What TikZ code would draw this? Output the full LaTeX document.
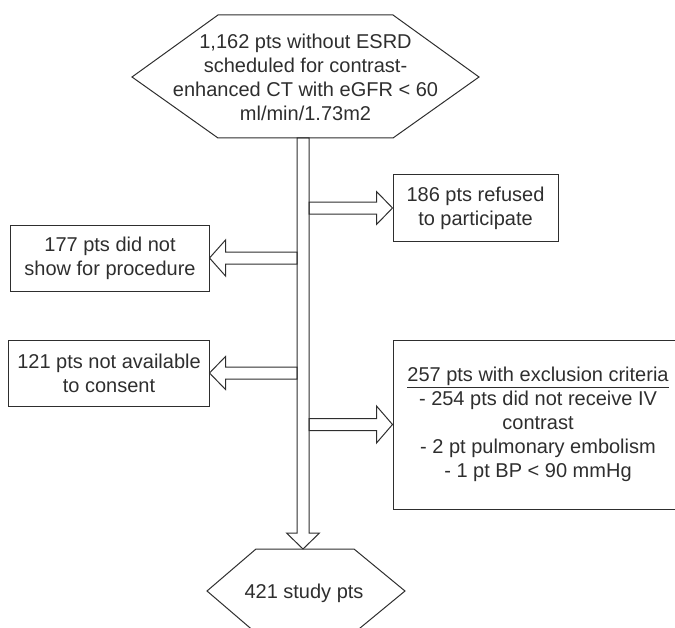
\documentclass[tikz,border=0pt]{standalone}
\usepackage{fontspec}
\setmainfont{Liberation Sans}
\usetikzlibrary{calc}

\definecolor{ink}{HTML}{2E2E2E}

\tikzset{
    flowline/.style={draw=ink, line width=1bp},
    txt/.style={text=ink, align=center, inner sep=0pt,
        font=\fontsize{20bp}{24bp}\selectfont},
    box/.style={txt, flowline, minimum height=66bp},
}

% hollow block arrow from #2 to #3, #1 = half width of the head
\newcommand{\fatarrow}[3][16.5bp]{%
    \coordinate (hb) at ($(#3)!16bp!(#2)$);
    \draw[flowline] ($(#2)!6bp!90:(#3)$) -- ($(hb)!6bp!90:(#3)$)
        -- ($(hb)!#1!90:(#3)$) -- (#3) -- ($(hb)!#1!-90:(#3)$)
        -- ($(hb)!6bp!-90:(#3)$) -- ($(#2)!6bp!-90:(#3)$) -- cycle;
}

\begin{document}
\begin{tikzpicture}[x=1bp, y=-1bp]
            \useasboundingbox (0,0) rectangle (675,628);
            \clip (0,0) rectangle (675,628);

            %top hexagon
            \draw[flowline] (132,77) -- (218,15) -- (393,15) -- (479,77)
                -- (393,138) -- (218,138) -- cycle;
            \node[txt] (start) at (305.5,77)
                {1,162 pts without ESRD\\scheduled for contrast-\\enhanced CT with eGFR < 60\\ml/min/1.73m2};
            \coordinate (top) at (303,138);

            %bottom hexagon
            \draw[flowline] (207,591) -- (256,549) -- (354,549) -- (405,591)
                -- (354,633) -- (256,633) -- cycle;
            \node[txt, anchor=base] (study) at (304,598) {421 study pts};
            \coordinate (bottom) at (303,549);

            %side boxes
            \node[box, minimum width=165bp] (refused) at (475.5,208)
                {186 pts refused\\to participate};
            \node[box, minimum width=198bp] (noshow) at (110,258)
                {177 pts did not\\show for procedure};
            \node[box, minimum width=200bp] (unavail) at (109,373)
                {121 pts not available\\to consent};
            \node[box, minimum width=290bp, minimum height=169bp] (excl) at (538,424.5)
                {\underline{257 pts with exclusion criteria}\\- 254 pts did not receive IV\\contrast\\- 2 pt pulmonary embolism\\- 1 pt BP < 90 mmHg};

            %points on the main shaft
            \coordinate (r1) at (309,208);
            \coordinate (l1) at (297,258);
            \coordinate (l2) at (297,373);
            \coordinate (r2) at (309,424.5);

            %arrows
            \fatarrow{top}{bottom}
            \fatarrow{r1}{refused.west}
            \fatarrow[18bp]{l1}{noshow.east}
            \fatarrow{l2}{unavail.east}
            \fatarrow[18.5bp]{r2}{excl.west}

        \end{tikzpicture}
\end{document}
